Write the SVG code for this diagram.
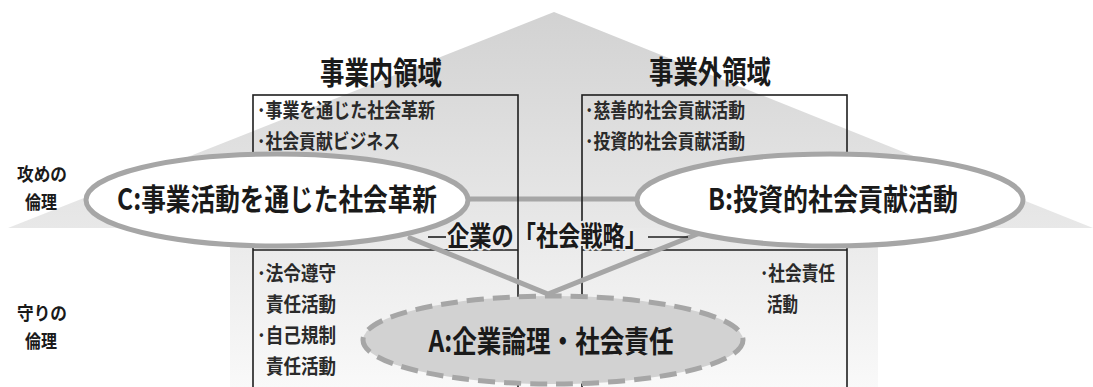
<svg xmlns="http://www.w3.org/2000/svg" width="1093" height="387" viewBox="0 0 1093 387">
<style>
.t{font-family:"Noto Sans CJK JP","Noto Sans",sans-serif;font-weight:700;fill:#1a1a1a}
.s{font-family:"Noto Sans CJK JP","Noto Sans",sans-serif;font-weight:700;fill:#2a2a2a}
.box{fill:none;stroke:#1e1e1e;stroke-width:1.6}
.ell{fill:#fff;stroke:#a6a6a6;stroke-width:5}
.conn{fill:none;stroke:#a6a6a6;stroke-width:5;stroke-linecap:round}
.halo{paint-order:stroke;stroke:#ececec;stroke-width:4;stroke-linejoin:round}
</style>
<defs>
<linearGradient id="roofG" x1="0" y1="0" x2="0" y2="1">
<stop offset="0" stop-color="#d2d2d2"/>
<stop offset="1" stop-color="#e8e8e8"/>
</linearGradient>
<linearGradient id="bodyG" x1="0" y1="0" x2="0" y2="1">
<stop offset="0" stop-color="#e9e9e9"/>
<stop offset="1" stop-color="#f9f9f9"/>
</linearGradient>
</defs>
<rect width="1093" height="387" fill="#fff"/>
<g id="house">
<polygon points="554,12 8,228 1093,228" fill="url(#roofG)"/>
<rect x="230" y="228" width="648" height="159" fill="url(#bodyG)"/>
</g>
<g id="titles">
<text class="t" x="381" y="84" font-size="31" text-anchor="middle" textLength="122" lengthAdjust="spacingAndGlyphs">事業内領域</text>
<text class="t" x="710" y="83" font-size="31" text-anchor="middle" textLength="122" lengthAdjust="spacingAndGlyphs">事業外領域</text>
</g>
<g id="side-labels">
<text class="t" x="42" y="181" font-size="18" text-anchor="middle" textLength="50" lengthAdjust="spacingAndGlyphs">攻めの</text>
<text class="t" x="41" y="209" font-size="18" text-anchor="middle" textLength="32" lengthAdjust="spacingAndGlyphs">倫理</text>
<text class="t" x="42" y="320" font-size="18" text-anchor="middle" textLength="50" lengthAdjust="spacingAndGlyphs">守りの</text>
<text class="t" x="41" y="348" font-size="18" text-anchor="middle" textLength="32" lengthAdjust="spacingAndGlyphs">倫理</text>
</g>
<g id="connectors">
<line class="conn" x1="460" y1="199" x2="645" y2="199"/>
</g>
<g id="inner-domain">
<rect class="box" x="253" y="95" width="265" height="300"/>
<line class="box" x1="253" y1="250" x2="518" y2="250"/>
<text class="s" x="257" y="118" font-size="20" textLength="178" lengthAdjust="spacingAndGlyphs">･事業を通じた社会革新</text>
<text class="s" x="257" y="149" font-size="20" textLength="143" lengthAdjust="spacingAndGlyphs">･社会貢献ビジネス</text>
<text class="s" x="257" y="281" font-size="20" textLength="79" lengthAdjust="spacingAndGlyphs">･法令遵守</text>
<text class="s" x="266" y="312" font-size="20" textLength="70" lengthAdjust="spacingAndGlyphs">責任活動</text>
<text class="s" x="257" y="343" font-size="20" textLength="79" lengthAdjust="spacingAndGlyphs">･自己規制</text>
<text class="s" x="266" y="374" font-size="20" textLength="70" lengthAdjust="spacingAndGlyphs">責任活動</text>
</g>
<g id="outer-domain">
<rect class="box" x="582" y="95" width="265" height="300"/>
<line class="box" x1="582" y1="250" x2="847" y2="250"/>
<text class="s" x="585" y="118" font-size="20" textLength="160" lengthAdjust="spacingAndGlyphs">･慈善的社会貢献活動</text>
<text class="s" x="585" y="149" font-size="20" textLength="160" lengthAdjust="spacingAndGlyphs">･投資的社会貢献活動</text>
<text class="s" x="760" y="281" font-size="20" textLength="75" lengthAdjust="spacingAndGlyphs">･社会責任</text>
<text class="s" x="767" y="312" font-size="20" textLength="31" lengthAdjust="spacingAndGlyphs">活動</text>
</g>
<g id="v-connectors">
<polyline class="conn" points="410,238 548,294 700,233"/>
</g>
<g id="node-C">
<ellipse class="ell" cx="277" cy="200" rx="191" ry="46"/>
<text class="t" x="277" y="210" font-size="30" text-anchor="middle" textLength="320" lengthAdjust="spacingAndGlyphs">C:事業活動を通じた社会革新</text>
</g>
<g id="node-B">
<ellipse class="ell" cx="830" cy="200" rx="193" ry="46"/>
<text class="t" x="833" y="210" font-size="30" text-anchor="middle" textLength="250" lengthAdjust="spacingAndGlyphs">B:投資的社会貢献活動</text>
</g>
<g id="node-A">
<ellipse cx="553" cy="340" rx="190" ry="44" fill="#d2d2d2" stroke="#a6a6a6" stroke-width="5" stroke-dasharray="17 9"/>
<text class="t" x="551" y="352" font-size="30" text-anchor="middle" textLength="245" lengthAdjust="spacingAndGlyphs">A:企業論理・社会責任</text>
</g>
<g id="strategy-label">
<line x1="428" y1="237" x2="446" y2="237" stroke="#1e1e1e" stroke-width="1.6"/>
<line x1="648" y1="237" x2="688" y2="237" stroke="#1e1e1e" stroke-width="1.6"/>
<text class="t halo" x="547" y="246" font-size="27" text-anchor="middle" textLength="200" lengthAdjust="spacingAndGlyphs">企業の「社会戦略」</text>
</g>
</svg>
